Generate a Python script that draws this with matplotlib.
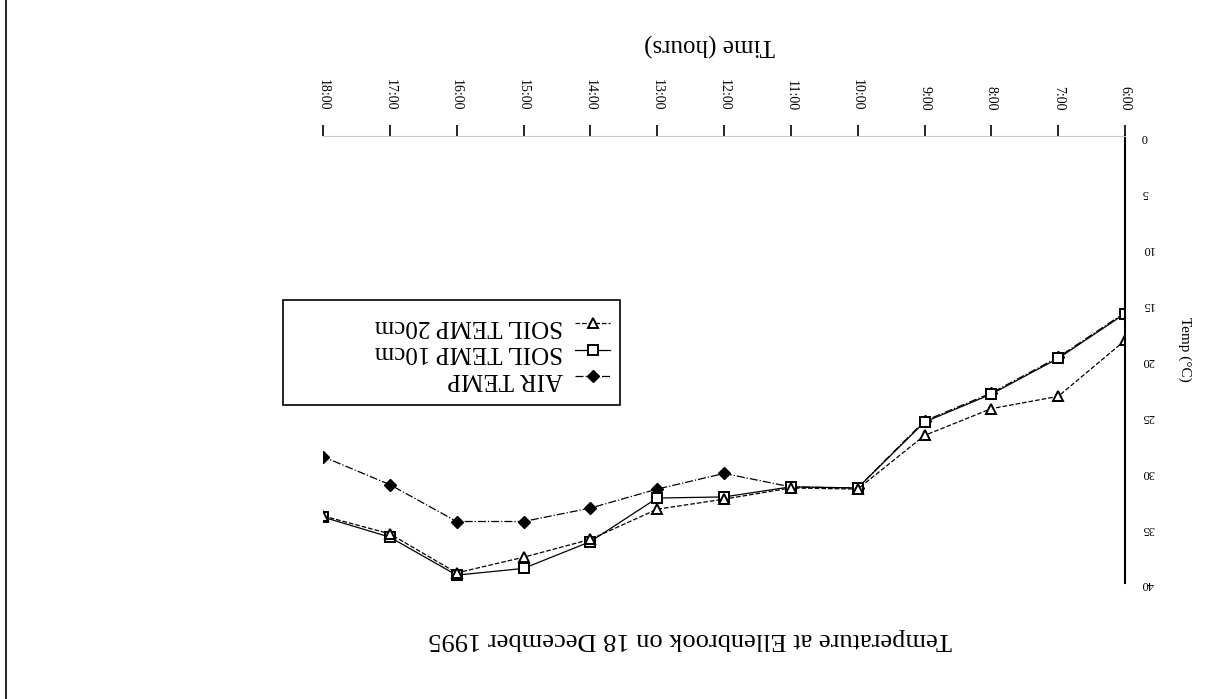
import matplotlib.pyplot as plt
import numpy as np
from matplotlib.lines import Line2D
from matplotlib.patches import Rectangle

# hourly readings, 18 December 1995 (the scanned page is upside down)
hours = ['6:00', '7:00', '8:00', '9:00', '10:00', '11:00', '12:00',
         '13:00', '14:00', '15:00', '16:00', '17:00', '18:00']
air_temp = [15.8, 19.8, 23.0, 25.5, 31.5, 31.4, 30.2, 31.6, 33.3, 34.5, 34.5, 31.2, 28.7]
soil_10cm = [15.9, 19.9, 23.1, 25.6, 31.5, 31.4, 32.3, 32.4, 36.3, 38.7, 39.3, 35.9, 34.1]
soil_20cm = [18.3, 23.3, 24.4, 26.8, 31.6, 31.5, 32.5, 33.4, 36.1, 37.7, 39.1, 35.6, 34.0]
y_ticks = [0, 5, 10, 15, 20, 25, 30, 35, 40]

plt.rcParams['font.family'] = ['Liberation Serif', 'DejaVu Serif']

fig = plt.figure(figsize=(12.23, 6.99), dpi=100)
ax = fig.add_axes([0.2641, 0.166, 0.6558, 0.6395])

x = np.arange(len(hours))
l_air, = ax.plot(x, air_temp, color='black', linestyle='-.', linewidth=0.9,
                 marker='D', markersize=6, markerfacecolor='black', label='AIR TEMP')
l_s10, = ax.plot(x, soil_10cm, color='black', linestyle='-', linewidth=0.9,
                 marker='s', markersize=7, markerfacecolor='white', markeredgewidth=1.4,
                 label='SOIL TEMP 10cm')
l_s20, = ax.plot(x, soil_20cm, color='black', linestyle='--', linewidth=0.9,
                 marker='^', markersize=7, markerfacecolor='white', markeredgewidth=1.4,
                 label='SOIL TEMP 20cm')

# whole chart turned 180 degrees, like the scan
ax.set_xlim(12, 0)
ax.set_ylim(40, 0)
ax.xaxis.tick_top()
ax.yaxis.tick_right()
ax.set_xticks(x)
ax.set_xticklabels(hours, rotation=270, fontsize=10)
ax.set_yticks(y_ticks)
ax.set_yticklabels([str(v) for v in y_ticks], fontsize=9, rotation=180)
ax.tick_params(axis='x', direction='out', length=8, width=1.2, pad=10)
ax.tick_params(axis='y', length=0, pad=12)

for side in ['bottom', 'left']:
    ax.spines[side].set_visible(False)
ax.spines['right'].set_linewidth(1.5)
ax.spines['top'].set_color('#c8c8c8')
ax.spines['top'].set_linewidth(0.8)

fig.text(0.5805, 0.936, 'Time (hours)', rotation=180, fontsize=18, ha='center', va='center')
fig.text(0.969, 0.50, 'Temp (°C)', rotation=270, fontsize=11, ha='center', va='center')
fig.text(0.564, 0.086, 'Temperature at Ellenbrook on 18 December 1995',
         rotation=180, fontsize=19, ha='center', va='center')

leg = ax.legend([l_s20, l_s10, l_air], ['SOIL TEMP 20cm', 'SOIL TEMP 10cm', 'AIR TEMP'],
                loc='upper right', bbox_to_anchor=(0.503, 0.557),
                bbox_transform=fig.transFigure, fontsize=18, markerfirst=False,
                frameon=False, handlelength=1.4, handletextpad=0.5,
                borderpad=0.2, labelspacing=0.15, borderaxespad=0)
for t in leg.get_texts():
    t.set_rotation(180)

# legend box as on the page
fig.add_artist(Rectangle((0.2314, 0.4206), 0.2756, 0.150, transform=fig.transFigure,
                         fill=False, edgecolor='black', linewidth=1.2))

# page border from the scan
fig.add_artist(Line2D([0.0045, 0.0045], [0.0, 1.0], transform=fig.transFigure,
                      color='black', linewidth=1.2))

fig.savefig('out.png', dpi=100)
